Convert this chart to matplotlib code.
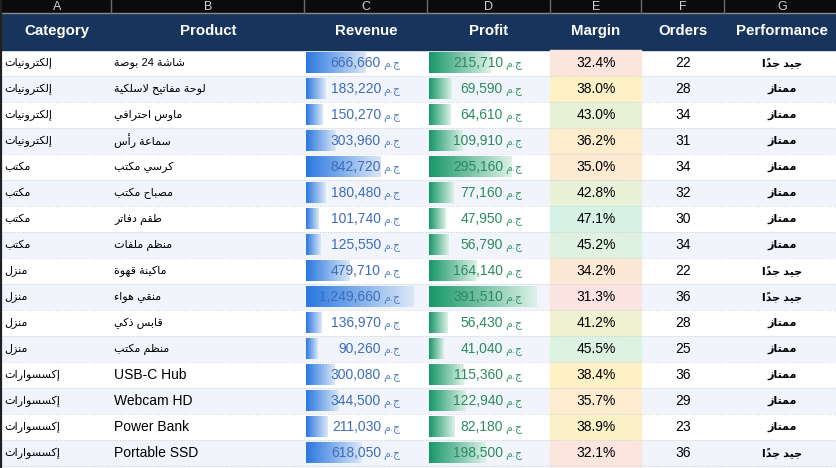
import numpy as np
import matplotlib
matplotlib.use("Agg")
import matplotlib.pyplot as plt
from matplotlib.colors import LinearSegmentedColormap, TwoSlopeNorm

# ---- data ----
col_letters = ["A", "B", "C", "D", "E", "F", "G"]
headers = ["Category", "Product", "Revenue", "Profit", "Margin", "Orders", "Performance"]
categories = ["إلكترونيات"] * 4 + ["مكتب"] * 4 + ["منزل"] * 4 + ["إكسسوارات"] * 4
products = ["شاشة 24 بوصة", "لوحة مفاتيح لاسلكية", "ماوس احترافي", "سماعة رأس",
            "كرسي مكتب", "مصباح مكتب", "طقم دفاتر", "منظم ملفات",
            "ماكينة قهوة", "منقي هواء", "قابس ذكي", "منظم مكتب",
            "USB-C Hub", "Webcam HD", "Power Bank", "Portable SSD"]
revenue = [666660, 183220, 150270, 303960, 842720, 180480, 101740, 125550,
           479710, 1249660, 136970, 90260, 300080, 344500, 211030, 618050]
profit = [215710, 69590, 64610, 109910, 295160, 77160, 47950, 56790,
          164140, 391510, 56430, 41040, 115360, 122940, 82180, 198500]
margin = [32.4, 38.0, 43.0, 36.2, 35.0, 42.8, 47.1, 45.2,
          34.2, 31.3, 41.2, 45.5, 38.4, 35.7, 38.9, 32.1]
orders = [22, 28, 34, 31, 34, 32, 30, 34, 22, 36, 28, 25, 36, 29, 23, 36]
performance = ["جيد جداً", "ممتاز", "ممتاز", "ممتاز", "ممتاز", "ممتاز", "ممتاز", "ممتاز",
               "جيد جداً", "جيد جداً", "ممتاز", "ممتاز", "ممتاز", "ممتاز", "ممتاز", "جيد جداً"]
currency = "ج.م"

# ---- tiny arabic shaper (matplotlib has no bidi / joining) ----
DUAL = {'ئ': 0xFE89, 'ب': 0xFE8F, 'ت': 0xFE95, 'ث': 0xFE99, 'ج': 0xFE9D, 'ح': 0xFEA1,
        'خ': 0xFEA5, 'س': 0xFEB1, 'ش': 0xFEB5, 'ص': 0xFEB9, 'ض': 0xFEBD, 'ط': 0xFEC1,
        'ظ': 0xFEC5, 'ع': 0xFEC9, 'غ': 0xFECD, 'ف': 0xFED1, 'ق': 0xFED5, 'ك': 0xFED9,
        'ل': 0xFEDD, 'م': 0xFEE1, 'ن': 0xFEE5, 'ه': 0xFEE9, 'ي': 0xFEF1}
RIGHT = {'آ': 0xFE81, 'أ': 0xFE83, 'ؤ': 0xFE85, 'إ': 0xFE87, 'ا': 0xFE8D, 'ة': 0xFE93,
         'د': 0xFEA9, 'ذ': 0xFEAB, 'ر': 0xFEAD, 'ز': 0xFEAF, 'و': 0xFEED, 'ى': 0xFEEF}
NONJ = {'ء': 0xFE80}
LAM_ALEF = {'آ': 0xFEF5, 'أ': 0xFEF7, 'إ': 0xFEF9, 'ا': 0xFEFB}


def is_arabic(c):
    return '\u0600' <= c <= '\u06ff'


def shape(s):
    if not any(is_arabic(c) for c in s):
        return s
    clusters = []
    for c in s:
        if '\u064b' <= c <= '\u0652' and clusters:
            clusters[-1][1].append(c)
        else:
            clusters.append([c, []])
    merged = []
    i = 0
    while i < len(clusters):
        b, m = clusters[i]
        if b == 'ل' and i + 1 < len(clusters) and clusters[i + 1][0] in LAM_ALEF:
            merged.append(['LA' + clusters[i + 1][0], m + clusters[i + 1][1]])
            i += 2
        else:
            merged.append([b, m])
            i += 1

    def jn(b):
        return b in DUAL

    def jp(b):
        return b in DUAL or b in RIGHT or b.startswith('LA')

    out = []
    for i, (b, m) in enumerate(merged):
        prev = merged[i - 1][0] if i > 0 else ''
        nxt = merged[i + 1][0] if i + 1 < len(merged) else ''
        p = jn(prev) and jp(b)
        n = jn(b) and jp(nxt)
        if b.startswith('LA'):
            g = chr(LAM_ALEF[b[2]] + (1 if jn(prev) else 0))
        elif b in DUAL:
            g = chr(DUAL[b] + (3 if p and n else 1 if p else 2 if n else 0))
        elif b in RIGHT:
            g = chr(RIGHT[b] + (1 if p else 0))
        elif b in NONJ:
            g = chr(NONJ[b])
        else:
            g = b
        out.append((g + ''.join(m), b.isascii() and b.isalnum()))
    # visual order: reverse runs, keep latin/digit runs left-to-right
    runs = []
    for g, ltr in out:
        if runs and runs[-1][0] == ltr:
            runs[-1][1].append(g)
        else:
            runs.append([ltr, [g]])
    vis = []
    for ltr, gs in reversed(runs):
        vis.extend(gs if ltr else reversed(gs))
    return ''.join(vis)


FAM = ['Liberation Sans', 'DejaVu Sans']
plt.rcParams['font.family'] = FAM

# ---- layout (pixels) ----
W, H = 837, 468
edges = [0, 111, 304, 427, 550, 641, 724, 837]
centers = [57, 208, 366, 489, 596, 683, 782]
top_h = 13
head_top, head_bot = 13, 50
row_h = 26
n = len(products)

fig = plt.figure(figsize=(W / 100, H / 100), dpi=100)
ax = fig.add_axes([0, 0, 1, 1])
ax.set_xlim(0, W)
ax.set_ylim(H, 0)
ax.axis('off')

# column letter strip
ax.add_patch(plt.Rectangle((0, 0), W, top_h, color='#0b0b0b', zorder=1))
ax.plot([0, W], [top_h, top_h], color='#8a8a8a', lw=1, zorder=2)
for x in edges[1:-1]:
    ax.plot([x, x], [0, top_h], color='#6a6a6a', lw=1, zorder=2)
for c, t in zip(centers, col_letters):
    ax.text(c, 6.5, t, ha='center', va='center', fontsize=9, color='#d0d0d0', zorder=3)

# header
ax.add_patch(plt.Rectangle((0, head_top + 0.5), W, head_bot - head_top - 0.5, color='#17355c', zorder=1))
for c, t in zip(centers, headers):
    ax.text(c, 31, t, ha='center', va='center', fontsize=10.8, fontweight='bold',
            color='white', zorder=3)

# rows
cmap_m = LinearSegmentedColormap.from_list('m', ['#fbe3e1', '#fef1c4', '#d6f2e6'])
norm_m = TwoSlopeNorm(vmin=min(margin), vcenter=np.percentile(margin, 50), vmax=max(margin))
blue_grad = LinearSegmentedColormap.from_list('b', ['#2a78df', '#dce8f8'])
green_grad = LinearSegmentedColormap.from_list('g', ['#17976a', '#ddf1e8'])
grad = np.linspace(0, 1, 256).reshape(1, -1)
rmax, pmax = max(revenue), max(profit)
cur_vis = shape(currency)

for i in range(n):
    y0 = head_bot + i * row_h
    yc = y0 + row_h / 2
    bg = '#ffffff' if i % 2 == 0 else '#f1f5fb'
    ax.add_patch(plt.Rectangle((0, y0), W, row_h, color=bg, zorder=0))
    ax.add_patch(plt.Rectangle((edges[4], y0), edges[5] - edges[4], row_h,
                               color=cmap_m(norm_m(margin[i])), zorder=1))
    ax.plot([0, W], [y0 + row_h, y0 + row_h], color='#d0d4db', lw=0.8,
            ls=(0, (1, 1.5)), zorder=2)

    # data bars with gradient
    wr = 4 + 104 * revenue[i] / rmax
    ax.imshow(grad, cmap=blue_grad, aspect='auto', zorder=1.5,
              extent=[edges[2] + 2, edges[2] + 2 + wr, y0 + row_h - 3, y0 + 2.5])
    wp = 4 + 104 * profit[i] / pmax
    ax.imshow(grad, cmap=green_grad, aspect='auto', zorder=1.5,
              extent=[edges[3] + 2, edges[3] + 2 + wp, y0 + row_h - 3, y0 + 2.5])

    ax.text(4, yc, shape(categories[i]), ha='left', va='center', fontsize=8,
            color='black', zorder=3)
    is_ar = any(is_arabic(c) for c in products[i])
    ax.text(114, yc, shape(products[i]), ha='left', va='center',
            fontsize=8 if is_ar else 10, color='black', zorder=3)

    ax.text(381, yc, f"{revenue[i]:,}", ha='right', va='center', fontsize=10,
            color='#3f6cb8', zorder=3)
    ax.text(383, yc + 2, cur_vis, ha='left', va='center', fontsize=8,
            color='#5a82c8', zorder=3)
    ax.text(503, yc, f"{profit[i]:,}", ha='right', va='center', fontsize=10,
            color='#2b8a5e', zorder=3)
    ax.text(505, yc + 2, cur_vis, ha='left', va='center', fontsize=8,
            color='#3c9a6e', zorder=3)

    ax.text(centers[4], yc, f"{margin[i]:.1f}%", ha='center', va='center',
            fontsize=10, color='black', zorder=3)
    ax.text(centers[5], yc, str(orders[i]), ha='center', va='center',
            fontsize=10, color='black', zorder=3)
    ax.text(centers[6], yc, shape(performance[i]), ha='center', va='center',
            fontsize=8, fontweight='bold', color='black', zorder=3)

ax.plot([0.8, 0.8], [0, H], color='#202020', lw=1.6, zorder=4)

ax.set_xlim(0, W)
ax.set_ylim(H, 0)
fig.savefig('out.png', dpi=100)
